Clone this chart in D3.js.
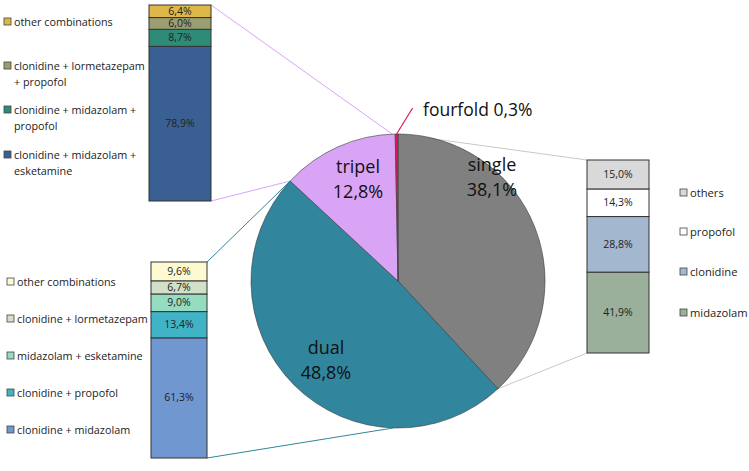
<!DOCTYPE html>
<html>
<head>
<meta charset="utf-8">
<script src="https://cdn.jsdelivr.net/npm/d3@7"></script>
<style>
  body { margin: 0; background: #fff; }
  svg { font-family: "Open Sans", "Noto Sans", sans-serif; }
</style>
</head>
<body>
<script>
// pie: share of sedation regimes
var pieLabels = ["single", "dual", "tripel", "fourfold"];
var pieValues = [38.1, 48.8, 12.8, 0.3];
var pieColors = ["#808080", "#31859c", "#d9a4f6", "#e0195a"];

// breakdown bars, listed bottom to top
var singleLabels = [["midazolam"], ["clonidine"], ["propofol"], ["others"]];
var singleValues = [41.9, 28.8, 14.3, 15.0];
var singleColors = ["#9bb09b", "#a3b7cf", "#ffffff", "#d9d9d9"];

var dualLabels = [["clonidine + midazolam"], ["clonidine + propofol"], ["midazolam + esketamine"], ["clonidine + lormetazepam"], ["other combinations"]];
var dualValues = [61.3, 13.4, 9.0, 6.7, 9.6];
var dualColors = ["#7097d0", "#40b4c6", "#95dcc1", "#d1e0c6", "#fdfad2"];

var tripelLabels = [["clonidine + midazolam +", "esketamine"], ["clonidine + midazolam +", "propofol"], ["clonidine + lormetazepam", "+ propofol"], ["other combinations"]];
var tripelValues = [78.9, 8.7, 6.0, 6.4];
var tripelColors = ["#3a6093", "#2e8b78", "#9b9e70", "#ddb848"];

var W = 749, H = 471;
var svg = d3.select("body").append("svg").attr("width", W).attr("height", H);

var cx = 398, cy = 281, R = 147;

var pie = d3.pie().sort(null).value(function (d) { return d; });
var arcs = pie(pieValues);
var arc = d3.arc().innerRadius(0).outerRadius(R);

function onCircle(a) {
  return [cx + R * Math.sin(a), cy - R * Math.cos(a)];
}

// connector lines first so they sit under the pie
var gLines = svg.append("g");
function connector(p, q, color) {
  gLines.append("line")
    .attr("x1", p[0]).attr("y1", p[1]).attr("x2", q[0]).attr("y2", q[1])
    .attr("stroke", color).attr("stroke-width", 1);
}

// bar layouts
var bars = [
  { values: singleValues, colors: singleColors, labels: singleLabels, x: 587, w: 62, top: 160, bottom: 353,
    legX: 680, legY: [313, 272, 232, 193], legFont: 11.2 },
  { values: dualValues, colors: dualColors, labels: dualLabels, x: 151, w: 56, top: 262, bottom: 458,
    legX: 7, legY: [430, 393, 356, 319, 282], legFont: 10.8 },
  { values: tripelValues, colors: tripelColors, labels: tripelLabels, x: 149, w: 62, top: 5, bottom: 201,
    legX: 4, legY: [155, 110, 66, 22], legFont: 10.8 }
];

// single -> right bar
connector(onCircle(arcs[0].startAngle), [bars[0].x, bars[0].top], "#c8c8c8");
connector(onCircle(arcs[0].endAngle), [bars[0].x, bars[0].bottom], "#c8c8c8");
// dual -> bottom-left bar
connector(onCircle(arcs[1].endAngle), [bars[1].x + bars[1].w, bars[1].top], "#31859c");
connector(onCircle(Math.PI * 1.01), [bars[1].x + bars[1].w, bars[1].bottom], "#31859c");
// tripel -> top-left bar
connector(onCircle(arcs[2].endAngle - 0.02), [bars[2].x + bars[2].w, bars[2].top], "#d9a4f6");
connector(onCircle(arcs[2].startAngle), [bars[2].x + bars[2].w, bars[2].bottom], "#d9a4f6");

// pie
var gPie = svg.append("g").attr("transform", "translate(" + cx + "," + cy + ")");
gPie.selectAll("path").data(arcs).enter().append("path")
  .attr("d", arc)
  .attr("fill", function (d, i) { return pieColors[i]; })
  .attr("stroke", "#3a3a3a")
  .attr("stroke-width", 0.6);

var pieText = [
  { i: 0, x: 492, y: 165 },
  { i: 1, x: 326, y: 348 },
  { i: 2, x: 358, y: 167 }
];
pieText.forEach(function (t) {
  var txt = gPie.append("text")
    .attr("text-anchor", "middle")
    .attr("font-size", 18)
    .attr("fill", "#111");
  txt.append("tspan").attr("x", t.x - cx).attr("y", t.y - cy + 6).text(pieLabels[t.i]);
  txt.append("tspan").attr("x", t.x - cx).attr("y", t.y - cy + 31).text(pieValues[t.i].toFixed(1).replace(".", ",") + "%");
});

// fourfold leader
var ff = arcs[3];
var ffp = onCircle((ff.startAngle + ff.endAngle) / 2);
svg.append("line")
  .attr("x1", ffp[0]).attr("y1", ffp[1]).attr("x2", ffp[0] + 16).attr("y2", ffp[1] - 26)
  .attr("stroke", pieColors[3]).attr("stroke-width", 1.2);
svg.append("text")
  .attr("x", 423).attr("y", 116)
  .attr("font-size", 17.5)
  .attr("fill", "#111")
  .text(pieLabels[3] + " " + pieValues[3].toFixed(1).replace(".", ",") + "%");

// stacked bars + legends
bars.forEach(function (b) {
  var y = d3.scaleLinear().domain([0, 100]).range([b.bottom, b.top]);
  var ends = Array.from(d3.cumsum(b.values));
  var g = svg.append("g");
  b.values.forEach(function (v, i) {
    var y0 = y(ends[i] - v), y1 = y(ends[i]);
    g.append("rect")
      .attr("x", b.x).attr("y", y1).attr("width", b.w).attr("height", y0 - y1)
      .attr("fill", b.colors[i]).attr("stroke", "#333").attr("stroke-width", 1);
    g.append("text")
      .attr("x", b.x + b.w / 2).attr("y", (y0 + y1) / 2 + 3.5)
      .attr("text-anchor", "middle").attr("font-size", 10.5).attr("fill", "#222")
      .text(v.toFixed(1).replace(".", ",") + "%");

    var ly = b.legY[i];
    g.append("rect")
      .attr("x", b.legX).attr("y", ly - 4).attr("width", 7).attr("height", 7)
      .attr("fill", b.colors[i]).attr("stroke", "#444").attr("stroke-width", 0.8);
    var t = g.append("text").attr("font-size", b.legFont).attr("fill", "#222");
    b.labels[i].forEach(function (line, k) {
      t.append("tspan").attr("x", b.legX + 10).attr("y", ly + 4 + k * 16).text(line);
    });
  });
});
</script>
</body>
</html>
